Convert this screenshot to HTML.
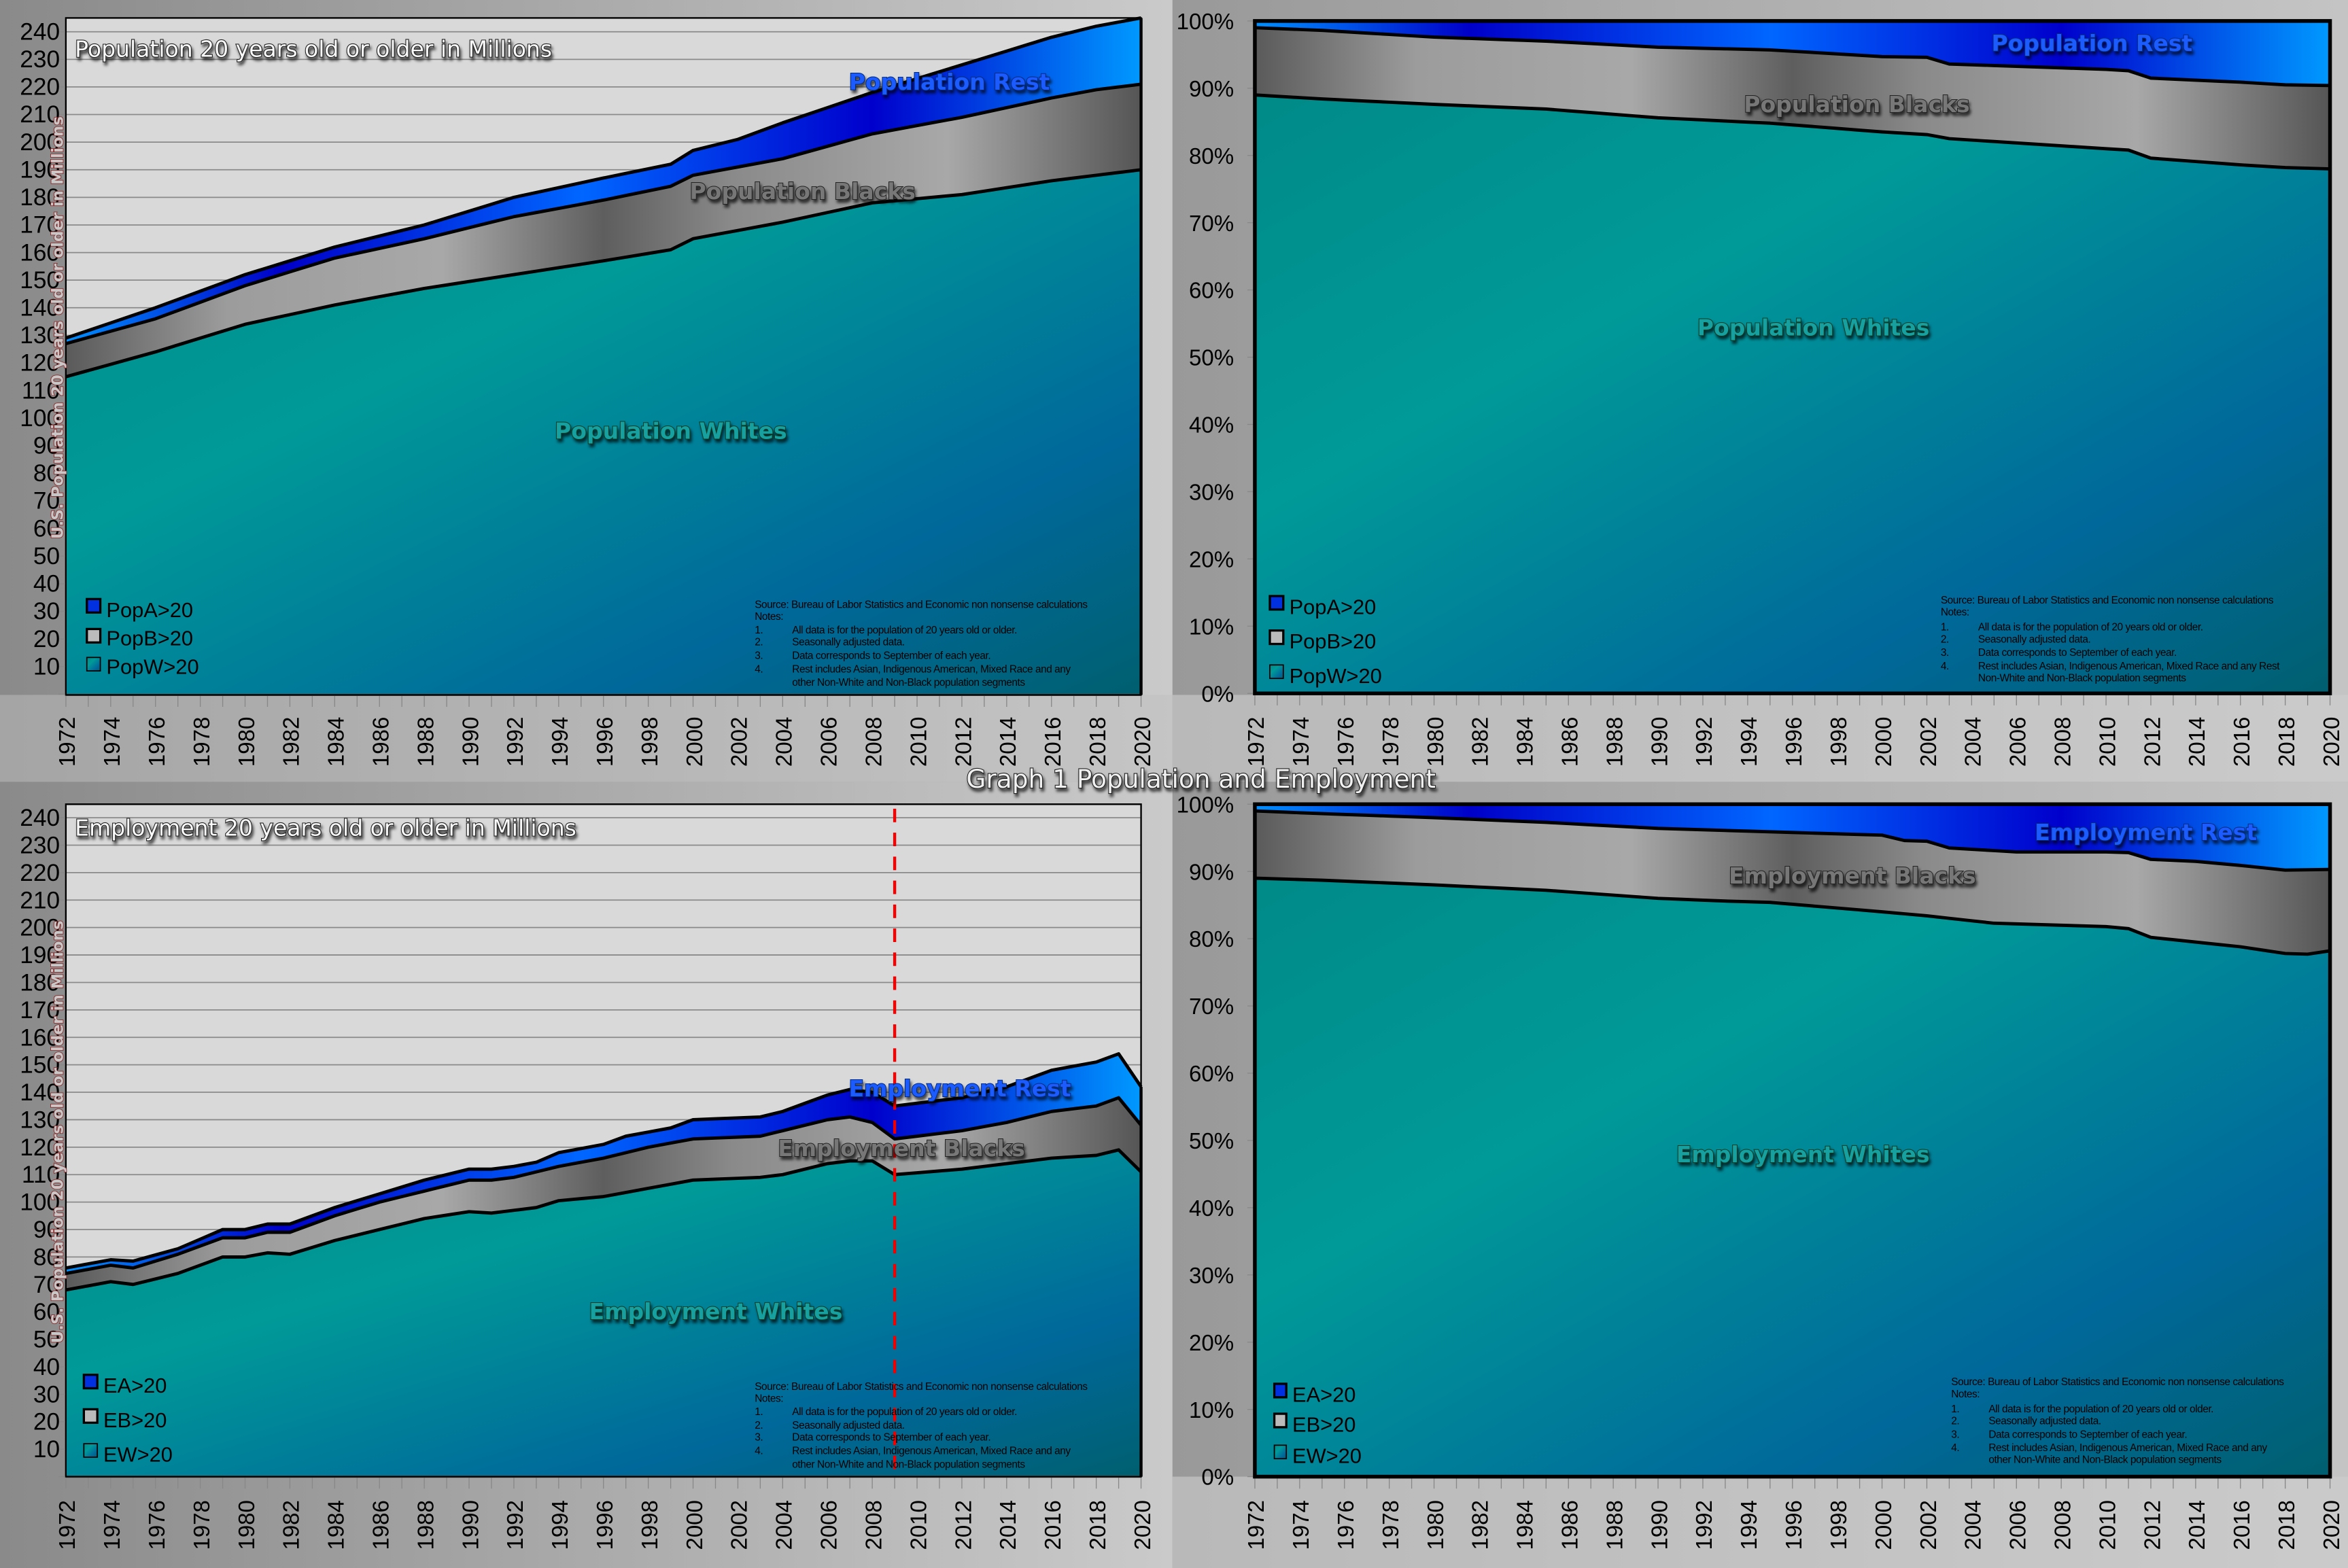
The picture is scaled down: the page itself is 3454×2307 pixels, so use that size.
<!DOCTYPE html>
<html><head><meta charset="utf-8"><style>
html,body{margin:0;padding:0;background:#aaa}
svg{display:block}
.yl{font-family:"Liberation Sans Narrow","Liberation Sans",sans-serif;font-size:16px;fill:#000;text-anchor:end}
.yr{font-family:"Liberation Sans Narrow","Liberation Sans",sans-serif;font-size:15px;fill:#000;text-anchor:end}
.yr2{font-family:"Liberation Sans",sans-serif;font-size:15px;fill:#000}
.ttl{font-family:"DejaVu Sans",sans-serif;font-size:15px;fill:#fafafa;stroke:#222;stroke-width:1px;paint-order:stroke;filter:url(#sh)}
.ser{font-family:"DejaVu Sans",sans-serif;font-weight:bold;font-size:15px;stroke-width:0.9px;paint-order:stroke;filter:url(#sh)}
.lg{font-family:"Liberation Sans",sans-serif;font-size:14px;fill:#000}
.nt{font-family:"Liberation Sans Narrow","Liberation Sans",sans-serif;font-size:7px;fill:#000;letter-spacing:-0.2px}
.axt{font-family:'DejaVu Sans',sans-serif;font-weight:bold;font-size:10.5px;fill:#c8c8c8;stroke:#8b2a2a;stroke-width:0.8px;paint-order:stroke}
</style></head><body>
<svg id="s" width="3454" height="2307" viewBox="0 0 1568 1047" preserveAspectRatio="none" xmlns="http://www.w3.org/2000/svg">
<defs>
<filter id="sh" x="-10%" y="-30%" width="120%" height="180%"><feDropShadow dx="1" dy="2" stdDeviation="1" flood-color="#000" flood-opacity="0.7"/></filter>
<linearGradient id="bgL" x1="0" y1="0" x2="1" y2="0"><stop offset="0" stop-color="#8a8a8a"/><stop offset="1" stop-color="#cacaca"/></linearGradient>
<linearGradient id="bgR" x1="0" y1="0" x2="1" y2="0"><stop offset="0" stop-color="#999"/><stop offset="1" stop-color="#c4c4c4"/></linearGradient>
<linearGradient id="gw" x1="0" y1="0" x2="1" y2="1"><stop offset="0" stop-color="#008a88"/><stop offset="0.35" stop-color="#009a98"/><stop offset="0.75" stop-color="#00689a"/><stop offset="1" stop-color="#006070"/></linearGradient>
<linearGradient id="gb" x1="0" y1="0" x2="1" y2="0"><stop offset="0" stop-color="#5a5a5a"/><stop offset="0.15" stop-color="#9c9c9c"/><stop offset="0.35" stop-color="#a8a8a8"/><stop offset="0.5" stop-color="#5e5e5e"/><stop offset="0.62" stop-color="#8a8a8a"/><stop offset="0.82" stop-color="#a8a8a8"/><stop offset="1" stop-color="#555"/></linearGradient>
<linearGradient id="ga" x1="0" y1="0" x2="1" y2="0"><stop offset="0" stop-color="#0090ff"/><stop offset="0.2" stop-color="#0000c8"/><stop offset="0.48" stop-color="#0066ff"/><stop offset="0.75" stop-color="#0000cc"/><stop offset="1" stop-color="#0099ff"/></linearGradient>
</defs>
<rect x="0" y="0" width="783" height="522" fill="url(#bgL)"/>
<rect x="0" y="522" width="783" height="525" fill="url(#bgL)"/>
<rect x="783" y="0" width="785" height="522" fill="url(#bgR)"/>
<rect x="783" y="522" width="785" height="525" fill="url(#bgR)"/>
<rect x="0" y="464" width="783" height="58" fill="#c0c0c0" opacity="0.5"/>
<rect x="783" y="464" width="785" height="58" fill="#cfcfcf" opacity="0.6"/>
<rect x="783" y="986" width="785" height="61" fill="#cfcfcf" opacity="0.6"/>
<g id="plots"></g>

<text class="yl" y="26.5"><tspan x="40">240</tspan><tspan x="40" dy="18.43">230</tspan><tspan x="40" dy="18.43">220</tspan><tspan x="40" dy="18.43">210</tspan><tspan x="40" dy="18.43">200</tspan><tspan x="40" dy="18.43">190</tspan><tspan x="40" dy="18.43">180</tspan><tspan x="40" dy="18.43">170</tspan><tspan x="40" dy="18.43">160</tspan><tspan x="40" dy="18.43">150</tspan><tspan x="40" dy="18.43">140</tspan><tspan x="40" dy="18.43">130</tspan><tspan x="40" dy="18.43">120</tspan><tspan x="40" dy="18.43">110</tspan><tspan x="40" dy="18.43">100</tspan><tspan x="40" dy="18.43">90</tspan><tspan x="40" dy="18.43">80</tspan><tspan x="40" dy="18.43">70</tspan><tspan x="40" dy="18.43">60</tspan><tspan x="40" dy="18.43">50</tspan><tspan x="40" dy="18.43">40</tspan><tspan x="40" dy="18.43">30</tspan><tspan x="40" dy="18.43">20</tspan><tspan x="40" dy="18.43">10</tspan></text>
<text class="yl" y="551.5"><tspan x="40">240</tspan><tspan x="40" dy="18.33">230</tspan><tspan x="40" dy="18.33">220</tspan><tspan x="40" dy="18.33">210</tspan><tspan x="40" dy="18.33">200</tspan><tspan x="40" dy="18.33">190</tspan><tspan x="40" dy="18.33">180</tspan><tspan x="40" dy="18.33">170</tspan><tspan x="40" dy="18.33">160</tspan><tspan x="40" dy="18.33">150</tspan><tspan x="40" dy="18.33">140</tspan><tspan x="40" dy="18.33">130</tspan><tspan x="40" dy="18.33">120</tspan><tspan x="40" dy="18.33">110</tspan><tspan x="40" dy="18.33">100</tspan><tspan x="40" dy="18.33">90</tspan><tspan x="40" dy="18.33">80</tspan><tspan x="40" dy="18.33">70</tspan><tspan x="40" dy="18.33">60</tspan><tspan x="40" dy="18.33">50</tspan><tspan x="40" dy="18.33">40</tspan><tspan x="40" dy="18.33">30</tspan><tspan x="40" dy="18.33">20</tspan><tspan x="40" dy="18.33">10</tspan></text>
<text class="yr" y="19.5"><tspan x="824">100%</tspan><tspan x="824" dy="44.9">90%</tspan><tspan x="824" dy="44.9">80%</tspan><tspan x="824" dy="44.9">70%</tspan><tspan x="824" dy="44.9">60%</tspan><tspan x="824" dy="44.9">50%</tspan><tspan x="824" dy="44.9">40%</tspan><tspan x="824" dy="44.9">30%</tspan><tspan x="824" dy="44.9">20%</tspan><tspan x="824" dy="44.9">10%</tspan><tspan x="824" dy="44.9">0%</tspan></text>
<text class="yr" y="542.5"><tspan x="824">100%</tspan><tspan x="824" dy="44.9">90%</tspan><tspan x="824" dy="44.9">80%</tspan><tspan x="824" dy="44.9">70%</tspan><tspan x="824" dy="44.9">60%</tspan><tspan x="824" dy="44.9">50%</tspan><tspan x="824" dy="44.9">40%</tspan><tspan x="824" dy="44.9">30%</tspan><tspan x="824" dy="44.9">20%</tspan><tspan x="824" dy="44.9">10%</tspan><tspan x="824" dy="44.9">0%</tspan></text>

<g transform="translate(0,512) rotate(-90)"><text class="yr2" x="0" y="50"><tspan x="0">1972</tspan><tspan x="0" dy="29.92">1974</tspan><tspan x="0" dy="29.92">1976</tspan><tspan x="0" dy="29.92">1978</tspan><tspan x="0" dy="29.92">1980</tspan><tspan x="0" dy="29.92">1982</tspan><tspan x="0" dy="29.92">1984</tspan><tspan x="0" dy="29.92">1986</tspan><tspan x="0" dy="29.92">1988</tspan><tspan x="0" dy="29.92">1990</tspan><tspan x="0" dy="29.92">1992</tspan><tspan x="0" dy="29.92">1994</tspan><tspan x="0" dy="29.92">1996</tspan><tspan x="0" dy="29.92">1998</tspan><tspan x="0" dy="29.92">2000</tspan><tspan x="0" dy="29.92">2002</tspan><tspan x="0" dy="29.92">2004</tspan><tspan x="0" dy="29.92">2006</tspan><tspan x="0" dy="29.92">2008</tspan><tspan x="0" dy="29.92">2010</tspan><tspan x="0" dy="29.92">2012</tspan><tspan x="0" dy="29.92">2014</tspan><tspan x="0" dy="29.92">2016</tspan><tspan x="0" dy="29.92">2018</tspan><tspan x="0" dy="29.92">2020</tspan></text></g>
<g transform="translate(0,1035) rotate(-90)"><text class="yr2" x="0" y="50"><tspan x="0">1972</tspan><tspan x="0" dy="29.92">1974</tspan><tspan x="0" dy="29.92">1976</tspan><tspan x="0" dy="29.92">1978</tspan><tspan x="0" dy="29.92">1980</tspan><tspan x="0" dy="29.92">1982</tspan><tspan x="0" dy="29.92">1984</tspan><tspan x="0" dy="29.92">1986</tspan><tspan x="0" dy="29.92">1988</tspan><tspan x="0" dy="29.92">1990</tspan><tspan x="0" dy="29.92">1992</tspan><tspan x="0" dy="29.92">1994</tspan><tspan x="0" dy="29.92">1996</tspan><tspan x="0" dy="29.92">1998</tspan><tspan x="0" dy="29.92">2000</tspan><tspan x="0" dy="29.92">2002</tspan><tspan x="0" dy="29.92">2004</tspan><tspan x="0" dy="29.92">2006</tspan><tspan x="0" dy="29.92">2008</tspan><tspan x="0" dy="29.92">2010</tspan><tspan x="0" dy="29.92">2012</tspan><tspan x="0" dy="29.92">2014</tspan><tspan x="0" dy="29.92">2016</tspan><tspan x="0" dy="29.92">2018</tspan><tspan x="0" dy="29.92">2020</tspan></text></g>
<g transform="translate(0,512) rotate(-90)"><text class="yr2" x="0" y="844"><tspan x="0">1972</tspan><tspan x="0" dy="29.92">1974</tspan><tspan x="0" dy="29.92">1976</tspan><tspan x="0" dy="29.92">1978</tspan><tspan x="0" dy="29.92">1980</tspan><tspan x="0" dy="29.92">1982</tspan><tspan x="0" dy="29.92">1984</tspan><tspan x="0" dy="29.92">1986</tspan><tspan x="0" dy="29.92">1988</tspan><tspan x="0" dy="29.92">1990</tspan><tspan x="0" dy="29.92">1992</tspan><tspan x="0" dy="29.92">1994</tspan><tspan x="0" dy="29.92">1996</tspan><tspan x="0" dy="29.92">1998</tspan><tspan x="0" dy="29.92">2000</tspan><tspan x="0" dy="29.92">2002</tspan><tspan x="0" dy="29.92">2004</tspan><tspan x="0" dy="29.92">2006</tspan><tspan x="0" dy="29.92">2008</tspan><tspan x="0" dy="29.92">2010</tspan><tspan x="0" dy="29.92">2012</tspan><tspan x="0" dy="29.92">2014</tspan><tspan x="0" dy="29.92">2016</tspan><tspan x="0" dy="29.92">2018</tspan><tspan x="0" dy="29.92">2020</tspan></text></g>
<g transform="translate(0,1035) rotate(-90)"><text class="yr2" x="0" y="844"><tspan x="0">1972</tspan><tspan x="0" dy="29.92">1974</tspan><tspan x="0" dy="29.92">1976</tspan><tspan x="0" dy="29.92">1978</tspan><tspan x="0" dy="29.92">1980</tspan><tspan x="0" dy="29.92">1982</tspan><tspan x="0" dy="29.92">1984</tspan><tspan x="0" dy="29.92">1986</tspan><tspan x="0" dy="29.92">1988</tspan><tspan x="0" dy="29.92">1990</tspan><tspan x="0" dy="29.92">1992</tspan><tspan x="0" dy="29.92">1994</tspan><tspan x="0" dy="29.92">1996</tspan><tspan x="0" dy="29.92">1998</tspan><tspan x="0" dy="29.92">2000</tspan><tspan x="0" dy="29.92">2002</tspan><tspan x="0" dy="29.92">2004</tspan><tspan x="0" dy="29.92">2006</tspan><tspan x="0" dy="29.92">2008</tspan><tspan x="0" dy="29.92">2010</tspan><tspan x="0" dy="29.92">2012</tspan><tspan x="0" dy="29.92">2014</tspan><tspan x="0" dy="29.92">2016</tspan><tspan x="0" dy="29.92">2018</tspan><tspan x="0" dy="29.92">2020</tspan></text></g>

<g transform="translate(42,360) rotate(-90)"><text class="axt" x="0" y="0">U.S. Population 20 years old or older in Millions</text></g>
<g transform="translate(42,897) rotate(-90)"><text class="axt" x="0" y="0">U.S. Population 20 years old or older in Millions</text></g>

<text class="ttl" x="50" y="38">Population 20 years old or older in Millions</text>
<text class="ttl" x="50" y="558">Employment 20 years old or older in Millions</text>
<text x="802" y="526" text-anchor="middle" style="font-family:'DejaVu Sans',sans-serif;font-size:17px;fill:#f0f0f0;stroke:#222;stroke-width:1px;paint-order:stroke;filter:url(#sh)">Graph 1 Population and Employment</text>

<g class="ser" text-anchor="middle">
<text x="634" y="60" fill="#1a5cff" stroke="#002a80">Population Rest</text>
<text x="536" y="133" fill="#777" stroke="#222">Population Blacks</text>
<text x="448" y="293" fill="#12a0a0" stroke="#0a3a20">Population Whites</text>
<text x="1397" y="34" fill="#1a5cff" stroke="#002a80">Population Rest</text>
<text x="1240" y="75" fill="#777" stroke="#222">Population Blacks</text>
<text x="1211" y="224" fill="#12a0a0" stroke="#0a3a20">Population Whites</text>
<text x="641" y="732" fill="#1a5cff" stroke="#002a80">Employment Rest</text>
<text x="602" y="772" fill="#777" stroke="#222">Employment Blacks</text>
<text x="478" y="881" fill="#12a0a0" stroke="#0a3a20">Employment Whites</text>
<text x="1433" y="561" fill="#1a5cff" stroke="#002a80">Employment Rest</text>
<text x="1237" y="590" fill="#777" stroke="#222">Employment Blacks</text>
<text x="1204" y="776" fill="#12a0a0" stroke="#0a3a20">Employment Whites</text>
</g>

<g>
<rect x="58" y="400" width="9" height="9" fill="#0030e0" stroke="#000" stroke-width="1.5"/><text class="lg" x="71" y="412">PopA&gt;20</text>
<rect x="58" y="420" width="9" height="9" fill="#bbb" stroke="#000" stroke-width="1.5"/><text class="lg" x="71" y="431">PopB&gt;20</text>
<rect x="58" y="439" width="9" height="9" fill="url(#gw)" stroke="#000" stroke-width="0.8"/><text class="lg" x="71" y="450">PopW&gt;20</text>
<rect x="848" y="398" width="9" height="9" fill="#0030e0" stroke="#000" stroke-width="1.5"/><text class="lg" x="861" y="410">PopA&gt;20</text>
<rect x="848" y="421" width="9" height="9" fill="#bbb" stroke="#000" stroke-width="1.5"/><text class="lg" x="861" y="433">PopB&gt;20</text>
<rect x="848" y="444" width="9" height="9" fill="url(#gw)" stroke="#000" stroke-width="0.8"/><text class="lg" x="861" y="456">PopW&gt;20</text>
<rect x="56" y="918" width="9" height="9" fill="#0030e0" stroke="#000" stroke-width="1.5"/><text class="lg" x="69" y="930">EA&gt;20</text>
<rect x="56" y="941" width="9" height="9" fill="#bbb" stroke="#000" stroke-width="1.5"/><text class="lg" x="69" y="953">EB&gt;20</text>
<rect x="56" y="964" width="9" height="9" fill="url(#gw)" stroke="#000" stroke-width="0.8"/><text class="lg" x="69" y="976">EW&gt;20</text>
<rect x="851" y="924" width="8" height="9" fill="#0030e0" stroke="#000" stroke-width="1.5"/><text class="lg" x="863" y="936">EA&gt;20</text>
<rect x="851" y="944" width="8" height="9" fill="#bbb" stroke="#000" stroke-width="1.5"/><text class="lg" x="863" y="956">EB&gt;20</text>
<rect x="851" y="965" width="8" height="9" fill="url(#gw)" stroke="#000" stroke-width="0.8"/><text class="lg" x="863" y="977">EW&gt;20</text>
</g>

<g class="nt">
<text x="504" y="406">Source: Bureau of Labor Statistics and Economic non nonsense calculations</text>
<text x="504" y="414">Notes:</text>
<text x="504" y="423">1.</text><text x="529" y="423">All data is for the population of  20 years old or older.</text>
<text x="504" y="431">2.</text><text x="529" y="431">Seasonally adjusted data.</text>
<text x="504" y="440">3.</text><text x="529" y="440">Data corresponds to September of each year.</text>
<text x="504" y="449">4.</text><text x="529" y="449">Rest  includes  Asian, Indigenous American, Mixed Race and any</text>
<text x="529" y="458">other Non-White and Non-Black population segments</text>

<text x="1296" y="403">Source: Bureau of Labor Statistics and Economic non nonsense calculations</text>
<text x="1296" y="411">Notes:</text>
<text x="1296" y="421">1.</text><text x="1321" y="421">All data is for the population of  20 years old or older.</text>
<text x="1296" y="429">2.</text><text x="1321" y="429">Seasonally adjusted data.</text>
<text x="1296" y="438">3.</text><text x="1321" y="438">Data corresponds to September of each year.</text>
<text x="1296" y="447">4.</text><text x="1321" y="447">Rest  includes  Asian, Indigenous American, Mixed Race and any Rest</text>
<text x="1321" y="455">Non-White and Non-Black population segments</text>

<text x="504" y="928">Source: Bureau of Labor Statistics and Economic non nonsense calculations</text>
<text x="504" y="936">Notes:</text>
<text x="504" y="945">1.</text><text x="529" y="945">All data is for the population of  20 years old or older.</text>
<text x="504" y="954">2.</text><text x="529" y="954">Seasonally adjusted data.</text>
<text x="504" y="962">3.</text><text x="529" y="962">Data corresponds to September of each year.</text>
<text x="504" y="971">4.</text><text x="529" y="971">Rest  includes  Asian, Indigenous American, Mixed Race and any</text>
<text x="529" y="980">other Non-White and Non-Black population segments</text>

<text x="1303" y="925">Source: Bureau of Labor Statistics and Economic non nonsense calculations</text>
<text x="1303" y="933">Notes:</text>
<text x="1303" y="943">1.</text><text x="1328" y="943">All data is for the population of  20 years old or older.</text>
<text x="1303" y="951">2.</text><text x="1328" y="951">Seasonally adjusted data.</text>
<text x="1303" y="960">3.</text><text x="1328" y="960">Data corresponds to September of each year.</text>
<text x="1303" y="969">4.</text><text x="1328" y="969">Rest  includes  Asian, Indigenous American, Mixed Race and any</text>
<text x="1328" y="977">other Non-White and Non-Black population segments</text>
</g>
</svg>
<script>
(function(){
var NS="http://www.w3.org/2000/svg";
function interp(keys){var o={},k=Object.keys(keys).map(Number).sort(function(a,b){return a-b});
for(var y=1972;y<=2020;y++){for(var i=0;i<k.length-1;i++){if(y>=k[i]&&y<=k[i+1]){var t=(y-k[i])/(k[i+1]-k[i]);o[y]=keys[k[i]]+(keys[k[i+1]]-keys[k[i]])*t;break;}}}return o;}
var popT=interp({1972:129,1976:140,1980:152,1984:162,1988:170,1992:180,1996:187,1999:192,2000:197,2002:201,2004:207,2008:218,2012:228,2014:233,2016:238,2018:242,2020:245});
var popB=interp({1972:127,1976:136,1980:148,1984:158,1988:165,1992:173,1996:179,1999:184,2000:188,2004:194,2008:203,2012:209,2016:216,2018:219,2020:221});
var popW=interp({1972:115,1976:124,1980:134,1984:141,1988:147,1992:152,1996:157,1999:161,2000:165,2004:171,2008:178,2012:181,2016:186,2018:188,2020:190});
var ppB=interp({1972:99,1975:98.6,1980:97.6,1985:97,1990:96.1,1995:95.7,2000:94.7,2002:94.6,2003:93.6,2010:92.8,2011:92.6,2012:91.5,2016:90.9,2018:90.5,2020:90.4});
var ppW=interp({1972:89,1975:88.4,1980:87.6,1985:86.9,1990:85.6,1995:84.8,2000:83.5,2002:83.1,2003:82.5,2010:81,2011:80.8,2012:79.6,2016:78.6,2018:78.2,2020:78});
var eT=interp({1972:76,1974:79,1975:78.5,1977:83,1979:90,1980:90,1981:92,1982:92,1984:98,1986:103,1988:108,1990:112,1991:112,1992:113,1993:114.5,1994:118,1996:121,1997:124,1999:127,2000:130,2003:131,2004:133,2006:139,2007:141,2008:140,2009:135,2011:137,2012:138,2014:142,2016:148,2018:151,2019:154,2020:142});
var eB=interp({1972:74,1974:77,1975:76,1977:81,1979:87,1980:87,1981:89,1982:89,1984:95,1986:100,1988:104,1990:108,1991:108,1992:109,1994:113,1996:116,1998:120,2000:123,2003:124,2004:126,2006:130,2007:131,2008:129,2009:123,2012:126,2014:129,2016:133,2018:135,2019:138,2020:128});
var eW=interp({1972:68,1974:71,1975:70,1977:74,1979:80,1980:80,1981:81.5,1982:81,1984:86,1986:90,1988:94,1990:96.5,1991:96,1992:97,1993:98,1994:100.5,1996:102,1998:105,2000:108,2003:109,2004:110,2006:114,2007:115,2008:115,2009:110,2012:112,2014:114,2016:116,2018:117,2019:119,2020:111});
var epB=interp({1972:99,1975:98.6,1980:98,1985:97.3,1990:96.4,1995:95.9,2000:95.4,2001:94.6,2002:94.5,2003:93.5,2006:92.9,2010:92.9,2011:92.8,2012:91.8,2014:91.5,2016:90.9,2018:90.2,2020:90.3});
var epW=interp({1972:89,1975:88.7,1980:88,1985:87.2,1990:86,1993:85.6,1995:85.4,2000:84,2002:83.4,2005:82.3,2010:81.8,2011:81.5,2012:80.2,2014:79.5,2016:78.8,2018:77.8,2019:77.7,2020:78.2});
var one={};for(var y=1972;y<=2020;y++)one[y]=100;
var g=document.getElementById("plots");
function el(n,a){var e=document.createElementNS(NS,n);for(var k in a)e.setAttribute(k,a[k]);g.appendChild(e);return e;}
function panel2(x0,x1,y0,y1,zeroY,topY,topV,step,gmax,series,pct,dash){
 el("rect",{x:x0,y:y0,width:x1-x0,height:y1-y0,fill:"#d9d9d9",stroke:"#000","stroke-width":1});
 var sy=function(v){return zeroY-(v/topV)*(zeroY-topY);};
 var sx=function(yr){return x0+(yr-1972)*(x1-x0)/48;};
 if(!pct){for(var v=step;v<=gmax;v+=step){el("line",{x1:x0,x2:x1,y1:sy(v),y2:sy(v),stroke:"#8a8a8a","stroke-width":0.8});}}
 for(var v=0;v<=gmax+0.001;v+=step){el("line",{x1:x0-5,x2:x0,y1:sy(v),y2:sy(v),stroke:"#888","stroke-width":0.6});}
 for(var yr=1972;yr<=2020;yr++){el("line",{x1:sx(yr),x2:sx(yr),y1:y1,y2:y1+8,stroke:"#888","stroke-width":0.6});}
 var fills=["url(#ga)","url(#gb)","url(#gw)"];
 series.forEach(function(s,i){
  var d="M"+sx(1972)+","+y1;
  for(var yr=1972;yr<=2020;yr++)d+=" L"+sx(yr).toFixed(2)+","+Math.max(y0,sy(s[yr])).toFixed(2);
  d+=" L"+sx(2020)+","+y1+" Z";
  el("path",{d:d,fill:fills[i],stroke:"none"});
  if(!(pct&&i==0)){var l="M"+sx(1972)+","+sy(s[1972]).toFixed(2);
  for(var yr=1973;yr<=2020;yr++)l+=" L"+sx(yr).toFixed(2)+","+sy(s[yr]).toFixed(2);
  el("path",{d:l,fill:"none",stroke:"#000","stroke-width":2.2,"stroke-linejoin":"round"});}
 });
 el("line",{x1:x0,x2:x1,y1:y1,y2:y1,stroke:"#555","stroke-width":1.5});
 el("rect",{x:x0,y:y0,width:x1-x0,height:y1-y0,fill:"none",stroke:"#000","stroke-width":pct?2.5:1});
 el("line",{x1:x1,x2:x1,y1:Math.max(y0,sy(series[0][2020])),y2:y1,stroke:"#000","stroke-width":2});
 if(dash){el("line",{x1:sx(2009),x2:sx(2009),y1:y0+3,y2:y1,stroke:"#e00","stroke-width":2,"stroke-dasharray":"9,7"});}
}
panel2(44,762,12,464,463.5,21.2,240,10,240,[popT,popB,popW],false,false);
panel2(838,1556,14,463,463,14,100,10,100,[one,ppB,ppW],true,false);
panel2(44,762,537,986,986,546,240,10,240,[eT,eB,eW],false,true);
panel2(838,1556,537,986,986,537,100,10,100,[one,epB,epW],true,false);
})();
</script>
</body></html>
